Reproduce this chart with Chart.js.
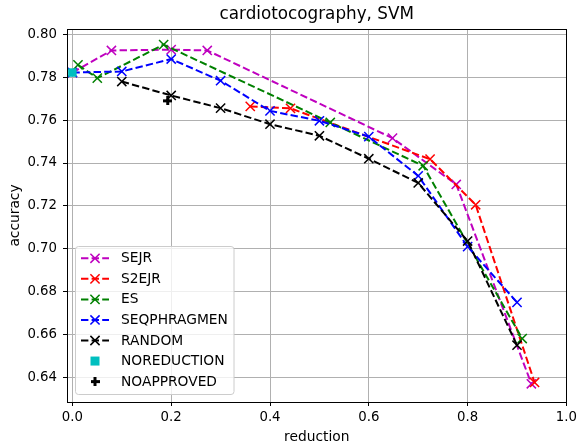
<!DOCTYPE html>
<html lang="en">
<head>
  <meta charset="UTF-8" />
  <title>cardiotocography, SVM</title>
  <script src="https://cdn.jsdelivr.net/npm/chart.js"></script>
  <style>
    body {
      margin: 0;
      background: white;
    }
    #wrap {
      width: 581px;
      height: 447px;
    }
  </style>
</head>
<body>

<div id="wrap">
  <canvas id="chart" width="581" height="447"></canvas>
</div>

<script>
// tick labels
const xTicks = [0.0, 0.2, 0.4, 0.6, 0.8, 1.0];
const yTicks = [0.64, 0.66, 0.68, 0.70, 0.72, 0.74, 0.76, 0.78, 0.80];

// series (reduction -> accuracy)
const sejrX = [0.0, 0.079, 0.2, 0.273, 0.648, 0.777, 0.929];
const sejrY = [0.7822, 0.7925, 0.7929, 0.7925, 0.7516, 0.730, 0.637];

const s2ejrX = [0.36, 0.4415, 0.724, 0.8163, 0.9355];
const s2ejrY = [0.7664, 0.7655, 0.7418, 0.7205, 0.6376];

const esX = [0.0113, 0.0504, 0.1847, 0.522, 0.710, 0.9105];
const esY = [0.7858, 0.7796, 0.7952, 0.7589, 0.7387, 0.6581];

const seqX = [0.0, 0.1, 0.2, 0.3, 0.4, 0.5, 0.6, 0.7, 0.8, 0.9];
const seqY = [0.7822, 0.7827, 0.7885, 0.7784, 0.7643, 0.7597, 0.7523, 0.734, 0.701, 0.675];

const randomX = [0.1, 0.2, 0.3, 0.4, 0.5, 0.6, 0.7, 0.8, 0.9];
const randomY = [0.778, 0.7715, 0.7656, 0.7581, 0.7527, 0.742, 0.7307, 0.7036, 0.655];

const noReductionX = [0.0];
const noReductionY = [0.7822];

const noApprovedX = [0.193];
const noApprovedY = [0.769];

const FONT = "'DejaVu Sans', sans-serif";
const DASH = [7.4, 3.2];

function pts(xs, ys) {
  return xs.map((x, i) => ({ x: x, y: ys[i] }));
}

// thick filled plus, like matplotlib 'P'
function plusImage(size, color) {
  const c = document.createElement('canvas');
  c.width = size; c.height = size;
  const g = c.getContext('2d');
  const t = size / 3;
  g.fillStyle = color;
  g.fillRect(t, 0, t, size);
  g.fillRect(0, t, size, t);
  return c;
}
const plusMarker = plusImage(9, '#000');

function lineSet(label, xs, ys, color, idx) {
  return {
    label: label,
    data: pts(xs, ys),
    showLine: true,
    borderColor: color,
    backgroundColor: color,
    borderWidth: 2,
    borderDash: DASH,
    pointStyle: 'crossRot',
    pointRadius: 6.5,
    pointBorderWidth: 1.5,
    pointBorderColor: color,
    pointHoverRadius: 6.5,
    order: 10 - idx,
    clip: false
  };
}

const datasets = [
  lineSet('SEJR', sejrX, sejrY, '#bf00bf', 0),
  lineSet('S2EJR', s2ejrX, s2ejrY, '#ff0000', 1),
  lineSet('ES', esX, esY, '#008000', 2),
  lineSet('SEQPHRAGMEN', seqX, seqY, '#0000ff', 3),
  lineSet('RANDOM', randomX, randomY, '#000000', 4),
  {
    label: 'NOREDUCTION',
    data: pts(noReductionX, noReductionY),
    showLine: false,
    pointStyle: 'rect',
    pointRadius: 6,
    pointBorderWidth: 0,
    backgroundColor: '#00bfbf',
    borderColor: '#00bfbf',
    order: 4,
    clip: false
  },
  {
    label: 'NOAPPROVED',
    data: pts(noApprovedX, noApprovedY),
    showLine: false,
    pointStyle: plusMarker,
    pointRadius: 4.5,
    backgroundColor: '#000',
    borderColor: '#000',
    order: 3,
    clip: false
  }
];

// frame, title and boxed legend, drawn like matplotlib
const decorPlugin = {
  id: 'decor',
  afterDatasetsDraw(chart) {
    const ctx = chart.ctx;
    const a = chart.chartArea;
    ctx.save();

    // axes frame
    ctx.strokeStyle = '#000';
    ctx.lineWidth = 1;
    ctx.strokeRect(Math.round(a.left) + 0.5, Math.round(a.top) + 0.5,
                   Math.round(a.right - a.left), Math.round(a.bottom - a.top));

    // title
    ctx.fillStyle = '#000';
    ctx.font = '16.8px ' + FONT;
    ctx.textAlign = 'center';
    ctx.textBaseline = 'middle';
    ctx.fillText('cardiotocography, SVM', (a.left + a.right) / 2, 15);

    // legend box
    const bx = 75.5, by = 246.5, bw = 158.5, bh = 148;
    ctx.beginPath();
    ctx.roundRect(bx, by, bw, bh, 3);
    ctx.fillStyle = 'rgba(255,255,255,0.8)';
    ctx.fill();
    ctx.strokeStyle = '#cccccc';
    ctx.lineWidth = 1;
    ctx.stroke();

    ctx.font = '13.8px ' + FONT;
    ctx.textAlign = 'left';
    const rowH = 20.55;
    chart.data.datasets.forEach((ds, i) => {
      const y = 258.3 + i * rowH;
      const mx = 95;
      if (ds.showLine) {
        ctx.strokeStyle = ds.borderColor;
        ctx.lineWidth = 2;
        ctx.setLineDash(DASH);
        ctx.beginPath();
        ctx.moveTo(81, y);
        ctx.lineTo(109, y);
        ctx.stroke();
        ctx.setLineDash([]);
        ctx.lineWidth = 1.5;
        const r = ds.pointRadius * Math.SQRT1_2;
        ctx.beginPath();
        ctx.moveTo(mx - r, y - r); ctx.lineTo(mx + r, y + r);
        ctx.moveTo(mx - r, y + r); ctx.lineTo(mx + r, y - r);
        ctx.stroke();
      } else if (ds.pointStyle === 'rect') {
        ctx.fillStyle = ds.backgroundColor;
        ctx.fillRect(mx - 4.5, y - 4.5, 9, 9);
      } else {
        ctx.drawImage(ds.pointStyle, mx - 4.5, y - 4.5);
      }
      ctx.fillStyle = '#000';
      ctx.fillText(ds.label, 121, y + 0.5);
    });

    ctx.restore();
  }
};

function fixTicks(list) {
  return function (scale) {
    scale.ticks = list.map(v => ({ value: v }));
  };
}

new Chart(document.getElementById('chart'), {
  type: 'scatter',
  data: { datasets: datasets },
  options: {
    responsive: false,
    animation: false,
    layout: { padding: { top: 29, right: 13, left: 0, bottom: 0 } },
    plugins: {
      legend: { display: false },
      title: { display: false },
      tooltip: { enabled: false }
    },
    scales: {
      x: {
        type: 'linear',
        min: -0.0109,
        max: 1.0,
        afterBuildTicks: fixTicks(xTicks),
        afterFit(scale) { scale.height = 45; },
        border: { display: false },
        grid: { color: '#b0b0b0', lineWidth: 1, drawTicks: true, tickLength: 4, tickColor: '#000' },
        ticks: {
          color: '#000',
          padding: 4,
          maxRotation: 0,
          font: { family: FONT, size: 13.3 },
          callback: v => Number(v).toFixed(1)
        },
        title: {
          display: true,
          text: 'reduction',
          color: '#000',
          font: { family: FONT, size: 13.8 },
          padding: { top: 0, bottom: 1.5 }
        }
      },
      y: {
        type: 'linear',
        min: 0.6285,
        max: 0.80252,
        afterBuildTicks: fixTicks(yTicks),
        afterFit(scale) { scale.width = 67; },
        border: { display: false },
        grid: { color: '#b0b0b0', lineWidth: 1, drawTicks: true, tickLength: 4, tickColor: '#000' },
        ticks: {
          color: '#000',
          padding: 6,
          font: { family: FONT, size: 13.3 },
          callback: v => Number(v).toFixed(2)
        },
        title: {
          display: true,
          text: 'accuracy',
          color: '#000',
          font: { family: FONT, size: 13.8 },
          padding: { top: 7, bottom: 0 }
        }
      }
    }
  },
  plugins: [decorPlugin]
});
</script>

</body>
</html>
